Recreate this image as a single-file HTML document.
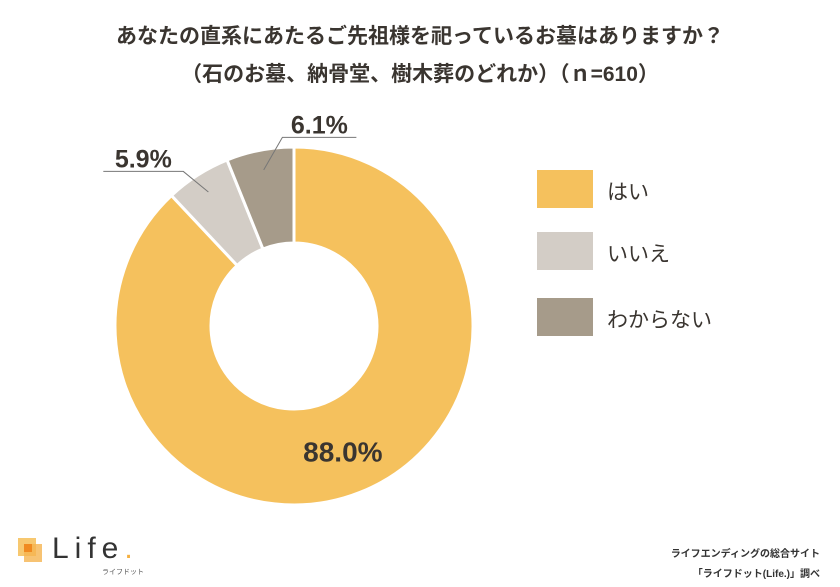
<!DOCTYPE html>
<html><head><meta charset="utf-8"><style>
body{margin:0;background:#fff;font-family:"Liberation Sans","Noto Sans CJK JP",sans-serif;}
#wrap{position:relative;width:840px;height:587px;overflow:hidden;}
.t{position:absolute;left:0;width:840px;text-align:center;font-weight:bold;color:#3a3530;font-size:21px;}
.lg{position:absolute;left:537px;width:56px;height:38px;}
.lt{position:absolute;left:607px;font-size:21px;color:#3a3530;}
</style></head><body>
<div id="wrap">
<div class="t" style="top:20px">あなたの直系にあたるご先祖様を祀っているお墓はありますか？</div>
<div class="t" style="top:58px">（石のお墓、納骨堂、樹木葬のどれか）（ｎ=610）</div>
<svg id="svg" width="840" height="587" style="position:absolute;left:0;top:0"></svg>
<div class="lg" style="top:170px;background:#f5c15d"></div>
<div class="lt" style="top:176px">はい</div>
<div class="lg" style="top:232px;background:#d3cdc6"></div>
<div class="lt" style="top:238px">いいえ</div>
<div class="lg" style="top:298px;background:#a69b8a"></div>
<div class="lt" style="top:304px">わからない</div>
<div style="position:absolute;left:18px;top:538px;width:18px;height:18px;background:#f7c870"><div style="position:absolute;left:6px;top:6px;width:18px;height:18px;background:rgba(245,180,80,.8)"></div><div style="position:absolute;left:6px;top:6px;width:8px;height:8px;background:#f08a20"></div></div>
<div style="position:absolute;left:52px;top:532px;font-size:30px;letter-spacing:6px;color:#333">Life<span style="color:#f5b040">.</span></div>
<div style="position:absolute;left:102px;top:567px;font-size:7px;color:#555">ライフドット</div>
<div style="position:absolute;right:20px;top:545px;font-size:10px;font-weight:bold;color:#333;text-align:right;line-height:20px">ライフエンディングの総合サイト<br>「ライフドット(Life.)」調べ</div>
</div>
<script>
const categories=["はい","いいえ","わからない"];
const values=[88.0,5.9,6.1];
const labels=["88.0%","5.9%","6.1%"];
const colors=["#f5c15d","#d3cdc6","#a69b8a"];
const svg=document.getElementById('svg');const NS="http://www.w3.org/2000/svg";
const cx=294,cy=326,R=179,r=83;
const total=values.reduce((a,b)=>a+b,0);
function pt(a,rad){return [cx+rad*Math.sin(a),cy-rad*Math.cos(a)];}
let a0=0;
values.forEach((v,i)=>{
 const a1=a0+v/total*2*Math.PI;
 const [x1,y1]=pt(a0,R),[x2,y2]=pt(a1,R),[x3,y3]=pt(a1,r),[x4,y4]=pt(a0,r);
 const lg=(a1-a0)>Math.PI?1:0;
 const p=document.createElementNS(NS,'path');
 p.setAttribute('d',`M${x1},${y1}A${R},${R} 0 ${lg} 1 ${x2},${y2}L${x3},${y3}A${r},${r} 0 ${lg} 0 ${x4},${y4}Z`);
 p.setAttribute('fill',colors[i]);p.setAttribute('stroke','#fff');p.setAttribute('stroke-width','3');
 
 
 svg.appendChild(p);
 const mid=(a0+a1)/2;
 if(i===0){
  const [tx,ty]=pt(mid,(R+r)/2+18);
  const t=document.createElementNS(NS,'text');
  t.setAttribute('x',tx-6);t.setAttribute('y',ty-3);t.setAttribute('text-anchor','middle');
  t.setAttribute('font-size','28');t.setAttribute('font-weight','bold');t.setAttribute('fill','#3a3530');
  t.setAttribute('font-family','Liberation Sans, sans-serif');t.textContent=labels[i];
  
  
  svg.appendChild(t);
 } else {
  const left=i===1;
  const [sx,sy]=pt(mid,R-20);const [ex0,ey0]=pt(mid,R+8);
  const ex=left?ex0-10:ex0+24, ey=left?ey0+3:ey0-5;
  const hx=left?ex-80:ex+74;
  const l=document.createElementNS(NS,'polyline');
  l.setAttribute('points',`${sx},${sy} ${ex},${ey} ${hx},${ey}`);
  l.setAttribute('fill','none');l.setAttribute('stroke','#777');l.setAttribute('stroke-width','1');
  
  
  svg.appendChild(l);
  const t=document.createElementNS(NS,'text');
  t.setAttribute('x',(ex+hx)/2);t.setAttribute('y',ey-4);t.setAttribute('text-anchor','middle');
  t.setAttribute('font-size','25');t.setAttribute('font-weight','bold');t.setAttribute('fill','#3a3530');
  t.setAttribute('font-family','Liberation Sans, sans-serif');t.textContent=labels[i];
  
  
  svg.appendChild(t);
 }
 a0=a1;
});
</script>
</body></html>
